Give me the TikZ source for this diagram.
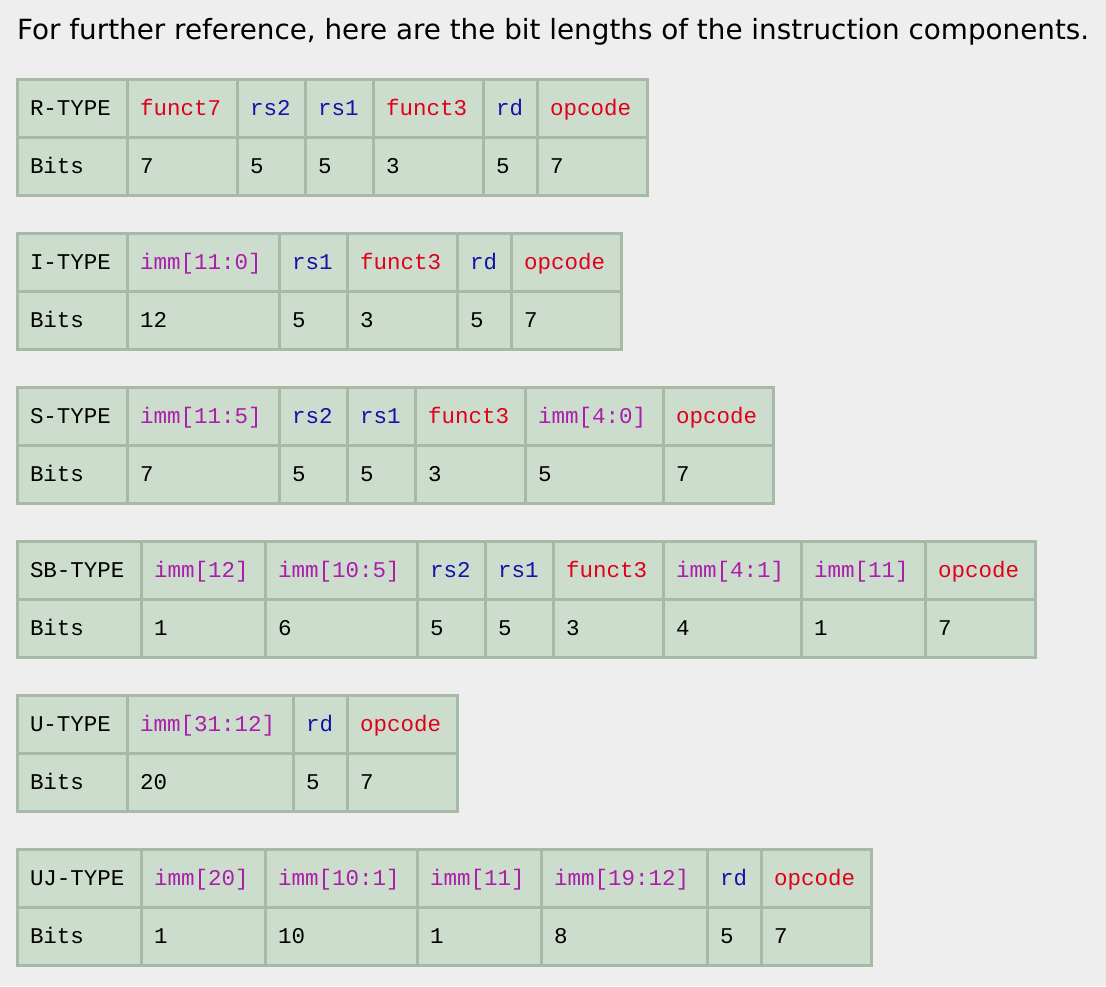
\documentclass[tikz,border=0pt]{standalone}
\usepackage{fontspec}
\setmonofont{Liberation Mono}
\newfontfamily\headfont{DejaVu Sans}
\usetikzlibrary{positioning}
\definecolor{pagebg}{RGB}{238,238,238}
\definecolor{cellfill}{RGB}{205,221,205}
\definecolor{cellline}{RGB}{168,185,168}
\definecolor{fieldred}{RGB}{224,0,26}
\definecolor{fieldblue}{RGB}{16,20,168}
\definecolor{fieldpurp}{RGB}{170,30,170}
\tikzset{x=1pt, y=-1pt,
    cell/.style={draw=cellline, fill=cellfill, line width=3pt, outer sep=0pt,
        inner xsep=13pt, inner ysep=0pt, minimum height=58pt,
        text width=#1, align=left, text height=17pt, text depth=2pt,
        font=\fontsize{22.5}{27}\selectfont\ttfamily},
    fr/.style={text=fieldred},
    fb/.style={text=fieldblue},
    fp/.style={text=fieldpurp},
    }

\begin{document}
\begin{tikzpicture}
\fill[pagebg] (0,0) rectangle (1106,986);
\useasboundingbox (0,0) rectangle (1106,986);
\node[font=\headfont\fontsize{27.8}{32}\selectfont, anchor=base west, inner sep=0pt] (title) at (17,39)
    {For further reference, here are the bit lengths of the instruction components.};

% R-TYPE
\node[cell=84, anchor=north west] (rh1) at (17,79) {R-TYPE};
\node[cell=84, fr, right=0pt of rh1] (rh2) {funct7};
\node[cell=42, fb, right=0pt of rh2] (rh3) {rs2};
\node[cell=42, fb, right=0pt of rh3] (rh4) {rs1};
\node[cell=84, fr, right=0pt of rh4] (rh5) {funct3};
\node[cell=28, fb, right=0pt of rh5] (rh6) {rd};
\node[cell=84, fr, right=0pt of rh6] (rh7) {opcode};
\node[cell=84, below=0pt of rh1] (rb1) {Bits};
\node[cell=84, right=0pt of rb1] (rb2) {7};
\node[cell=42, right=0pt of rb2] (rb3) {5};
\node[cell=42, right=0pt of rb3] (rb4) {5};
\node[cell=84, right=0pt of rb4] (rb5) {3};
\node[cell=28, right=0pt of rb5] (rb6) {5};
\node[cell=84, right=0pt of rb6] (rb7) {7};

% I-TYPE
\node[cell=84, anchor=north west] (ih1) at (17,233) {I-TYPE};
\node[cell=126, fp, right=0pt of ih1] (ih2) {imm[11:0]};
\node[cell=42, fb, right=0pt of ih2] (ih3) {rs1};
\node[cell=84, fr, right=0pt of ih3] (ih4) {funct3};
\node[cell=28, fb, right=0pt of ih4] (ih5) {rd};
\node[cell=84, fr, right=0pt of ih5] (ih6) {opcode};
\node[cell=84, below=0pt of ih1] (ib1) {Bits};
\node[cell=126, right=0pt of ib1] (ib2) {12};
\node[cell=42, right=0pt of ib2] (ib3) {5};
\node[cell=84, right=0pt of ib3] (ib4) {3};
\node[cell=28, right=0pt of ib4] (ib5) {5};
\node[cell=84, right=0pt of ib5] (ib6) {7};

% S-TYPE
\node[cell=84, anchor=north west] (sh1) at (17,387) {S-TYPE};
\node[cell=126, fp, right=0pt of sh1] (sh2) {imm[11:5]};
\node[cell=42, fb, right=0pt of sh2] (sh3) {rs2};
\node[cell=42, fb, right=0pt of sh3] (sh4) {rs1};
\node[cell=84, fr, right=0pt of sh4] (sh5) {funct3};
\node[cell=112, fp, right=0pt of sh5] (sh6) {imm[4:0]};
\node[cell=84, fr, right=0pt of sh6] (sh7) {opcode};
\node[cell=84, below=0pt of sh1] (sb1) {Bits};
\node[cell=126, right=0pt of sb1] (sb2) {7};
\node[cell=42, right=0pt of sb2] (sb3) {5};
\node[cell=42, right=0pt of sb3] (sb4) {5};
\node[cell=84, right=0pt of sb4] (sb5) {3};
\node[cell=112, right=0pt of sb5] (sb6) {5};
\node[cell=84, right=0pt of sb6] (sb7) {7};

% SB-TYPE
\node[cell=98, anchor=north west] (bh1) at (17,541) {SB-TYPE};
\node[cell=98, fp, right=0pt of bh1] (bh2) {imm[12]};
\node[cell=126, fp, right=0pt of bh2] (bh3) {imm[10:5]};
\node[cell=42, fb, right=0pt of bh3] (bh4) {rs2};
\node[cell=42, fb, right=0pt of bh4] (bh5) {rs1};
\node[cell=84, fr, right=0pt of bh5] (bh6) {funct3};
\node[cell=112, fp, right=0pt of bh6] (bh7) {imm[4:1]};
\node[cell=98, fp, right=0pt of bh7] (bh8) {imm[11]};
\node[cell=84, fr, right=0pt of bh8] (bh9) {opcode};
\node[cell=98, below=0pt of bh1] (bb1) {Bits};
\node[cell=98, right=0pt of bb1] (bb2) {1};
\node[cell=126, right=0pt of bb2] (bb3) {6};
\node[cell=42, right=0pt of bb3] (bb4) {5};
\node[cell=42, right=0pt of bb4] (bb5) {5};
\node[cell=84, right=0pt of bb5] (bb6) {3};
\node[cell=112, right=0pt of bb6] (bb7) {4};
\node[cell=98, right=0pt of bb7] (bb8) {1};
\node[cell=84, right=0pt of bb8] (bb9) {7};

% U-TYPE
\node[cell=84, anchor=north west] (uh1) at (17,695) {U-TYPE};
\node[cell=140, fp, right=0pt of uh1] (uh2) {imm[31:12]};
\node[cell=28, fb, right=0pt of uh2] (uh3) {rd};
\node[cell=84, fr, right=0pt of uh3] (uh4) {opcode};
\node[cell=84, below=0pt of uh1] (ub1) {Bits};
\node[cell=140, right=0pt of ub1] (ub2) {20};
\node[cell=28, right=0pt of ub2] (ub3) {5};
\node[cell=84, right=0pt of ub3] (ub4) {7};

% UJ-TYPE
\node[cell=98, anchor=north west] (jh1) at (17,849) {UJ-TYPE};
\node[cell=98, fp, right=0pt of jh1] (jh2) {imm[20]};
\node[cell=126, fp, right=0pt of jh2] (jh3) {imm[10:1]};
\node[cell=98, fp, right=0pt of jh3] (jh4) {imm[11]};
\node[cell=140, fp, right=0pt of jh4] (jh5) {imm[19:12]};
\node[cell=28, fb, right=0pt of jh5] (jh6) {rd};
\node[cell=84, fr, right=0pt of jh6] (jh7) {opcode};
\node[cell=98, below=0pt of jh1] (jb1) {Bits};
\node[cell=98, right=0pt of jb1] (jb2) {1};
\node[cell=126, right=0pt of jb2] (jb3) {10};
\node[cell=98, right=0pt of jb3] (jb4) {1};
\node[cell=140, right=0pt of jb4] (jb5) {8};
\node[cell=28, right=0pt of jb5] (jb6) {5};
\node[cell=84, right=0pt of jb6] (jb7) {7};
\end{tikzpicture}
\end{document}
